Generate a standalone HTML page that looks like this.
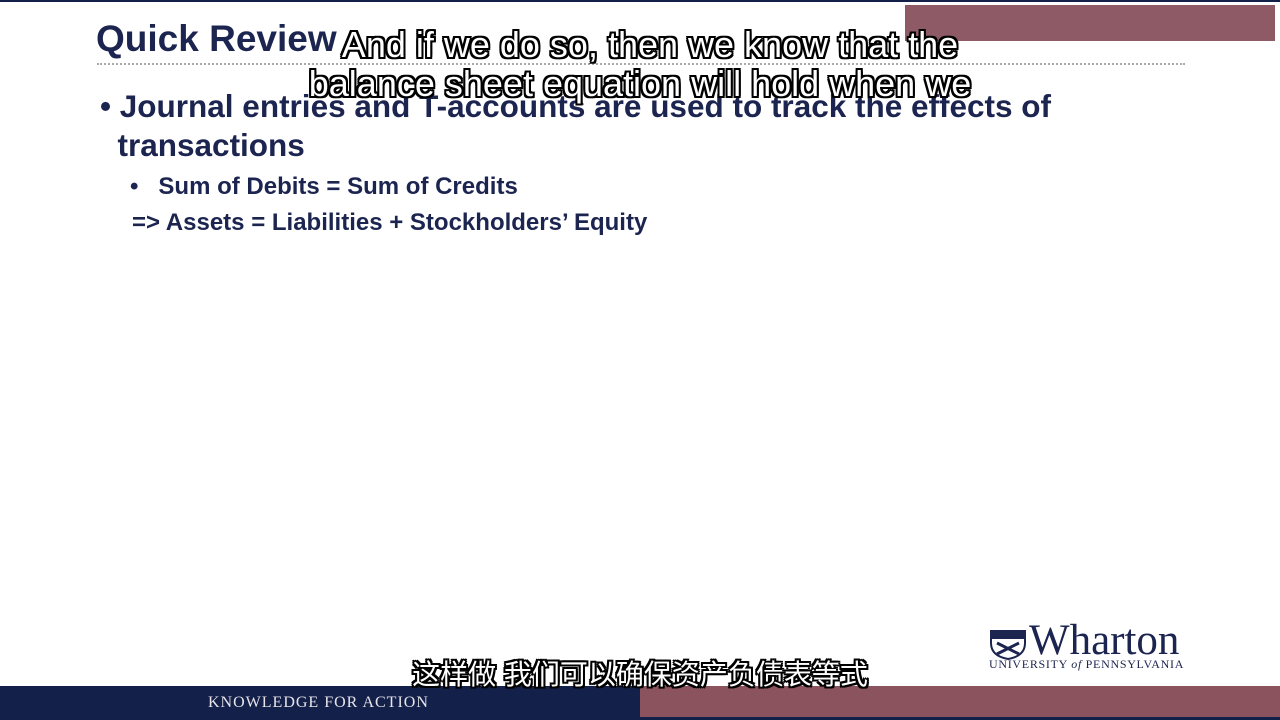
<!DOCTYPE html>
<html><head><meta charset="utf-8"><style>
body{margin:0;width:1280px;height:720px;overflow:hidden;background:#fff;position:relative;font-family:"Liberation Sans","Noto Sans CJK SC",sans-serif}
div{position:absolute}
.sub{color:#fff;font-weight:normal;text-shadow:-2px -2px 0 #000,2px -2px 0 #000,-2px 2px 0 #000,2px 2px 0 #000,0 2px 0 #000,0 -2px 0 #000,2px 0 0 #000,-2px 0 0 #000;white-space:nowrap}
.t{color:#1c2450;font-weight:bold;white-space:nowrap}
</style></head><body>
<div style="left:0;top:0;width:1280px;height:2px;background:#13214a"></div>
<div style="left:905px;top:5px;width:370px;height:36px;background:#8e5a66"></div>
<div class="t" style="left:96px;top:18px;font-size:37px">Quick Review</div>
<div style="left:97px;top:63px;width:1088px;border-top:2px dotted #aaa"></div>
<div class="t" style="left:100px;top:87px;font-size:31.5px;line-height:39px">•&nbsp;Journal entries and T-accounts are used to track the effects of<br>&nbsp;&nbsp;transactions</div>
<div class="t" style="left:130px;top:173px;font-size:24px">•&nbsp;&nbsp; Sum of Debits = Sum of Credits</div>
<div class="t" style="left:132px;top:209px;font-size:24px">=&gt; Assets = Liabilities + Stockholders’ Equity</div>
<div class="sub" style="left:0;width:1280px;text-align:center;top:25px;font-size:36px;line-height:39px">&nbsp;&nbsp;And if we do so, then we know that the<br>balance sheet equation will hold when we</div>
<div style="left:988px;top:626px;width:200px;height:45px">
<svg width="38" height="32" style="position:absolute;left:1px;top:3px"><path d="M2 2H36V14Q36 27 19 30Q2 27 2 14Z" fill="#fff" stroke="#1c2450" stroke-width="2"/><rect x="2" y="2" width="34" height="8" fill="#1c2450"/><path d="M8 14L30 25M30 14L8 25" stroke="#1c2450" stroke-width="3"/></svg>
<div style="left:41px;top:-10px;font-family:'Liberation Serif',serif;font-size:43px;color:#1c2450">Wharton</div>
<div style="left:1px;top:31px;font-family:'Liberation Serif',serif;font-size:12px;color:#1c2450;letter-spacing:0.7px;white-space:nowrap">UNIVERSITY <i>of</i> PENNSYLVANIA</div>
</div>
<div class="sub" style="left:0;width:1280px;text-align:center;top:658px;font-size:28px;line-height:34px;z-index:3">这样做 我们可以确保资产负债表等式</div>
<div style="left:0;top:686px;width:640px;height:34px;background:#13214a"></div>
<div style="left:640px;top:686px;width:640px;height:31px;background:#8a535d"></div>
<div style="left:640px;top:717px;width:640px;height:3px;background:#13214a"></div>
<div style="left:208px;top:694px;font-family:'Liberation Serif',serif;font-size:16px;color:#e8e4ea;letter-spacing:1px">KNOWLEDGE FOR ACTION</div>
</body></html>
